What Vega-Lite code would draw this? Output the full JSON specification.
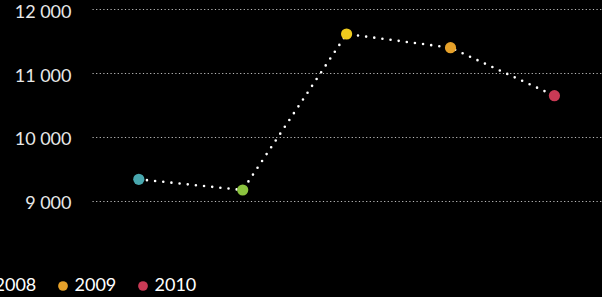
{
  "$schema": "https://vega.github.io/schema/vega-lite/v6.json",
  "width": 510,
  "height": 297,
  "autosize": {"type": "none"},
  "padding": {"left": 92, "top": 0, "right": 0, "bottom": 0},
  "background": "#000000",
  "config": {
    "view": {"stroke": null},
    "font": "Lato"
  },
  "data": {
    "values": [
      {"year": 2006, "value": 9335},
      {"year": 2007, "value": 9167},
      {"year": 2008, "value": 11611},
      {"year": 2009, "value": 11397},
      {"year": 2010, "value": 10645}
    ]
  },
  "encoding": {
    "x": {
      "field": "year",
      "type": "quantitative",
      "scale": {"domain": [2005.5496, 2010.458], "nice": false, "zero": false},
      "axis": null
    },
    "y": {
      "field": "value",
      "type": "quantitative",
      "scale": {"domain": [7491, 12144], "nice": false, "zero": false},
      "axis": {
        "values": [9000, 10000, 11000, 12000],
        "title": null,
        "domain": false,
        "ticks": false,
        "grid": true,
        "gridColor": "#bdbdbd",
        "gridDash": [1.2, 2.4],
        "gridWidth": 1,
        "gridOpacity": 1,
        "labelFont": "Lato",
        "labelFontSize": 18,
        "labelColor": "#e8e8e8",
        "labelPadding": 21,
        "labelBaseline": "middle",
        "labelOffset": 3,
        "labelExpr": "replace(format(datum.value, ',d'), ',', ' ')"
      }
    }
  },
  "layer": [
    {
      "mark": {
        "type": "line",
        "color": "#ffffff",
        "strokeDash": [0, 8.2],
        "strokeCap": "round",
        "strokeWidth": 2.6
      }
    },
    {
      "mark": {"type": "circle", "size": 125, "opacity": 1},
      "encoding": {
        "color": {
          "field": "year",
          "type": "nominal",
          "scale": {
            "domain": [2006, 2007, 2008, 2009, 2010],
            "range": ["#48a7ae", "#8bc33f", "#efcb1d", "#e6a12a", "#c93a55"]
          },
          "legend": {
            "orient": "none",
            "legendX": -278,
            "legendY": 277,
            "direction": "horizontal",
            "title": null,
            "symbolType": "circle",
            "symbolSize": 95,
            "symbolStrokeWidth": 0,
            "symbolOpacity": 1,
            "labelFont": "Lato",
            "labelFontSize": 18,
            "labelColor": "#ffffff",
            "labelOffset": 2.5,
            "columnPadding": 17
          }
        }
      }
    }
  ]
}
